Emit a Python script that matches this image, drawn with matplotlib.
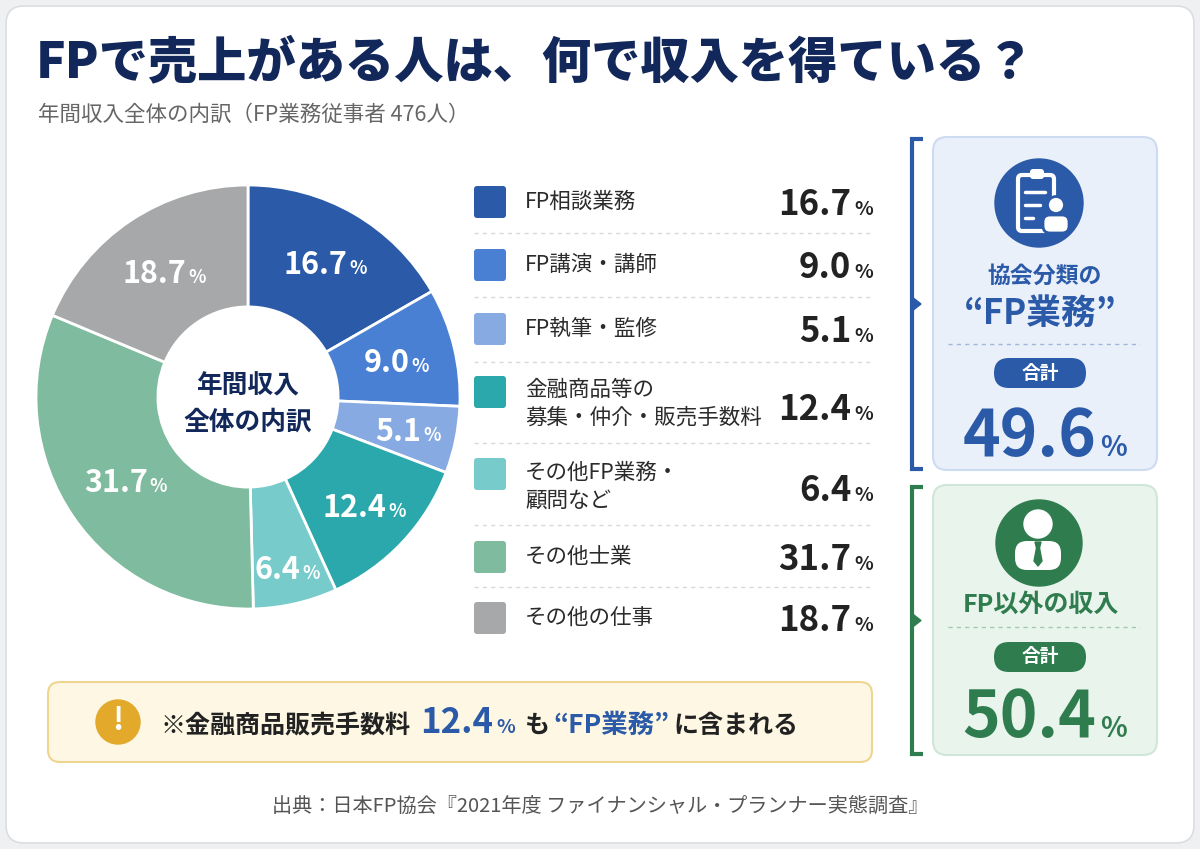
import matplotlib
matplotlib.use("Agg")
import matplotlib.pyplot as plt
import numpy as np
from matplotlib.patches import FancyBboxPatch, Circle, Polygon

plt.rcParams["font.family"] = ["Noto Sans CJK JP", "DejaVu Sans"]

# --- data -------------------------------------------------------------
TITLE = "FPで売上がある人は、何で収入を得ている？"
SUBTITLE = "年間収入全体の内訳（FP業務従事者 476人）"
CENTER_LABEL = "年間収入\n全体の内訳"
SOURCE = "出典：日本FP協会『2021年度 ファイナンシャル・プランナー実態調査』"

categories = [
    "FP相談業務",
    "FP講演・講師",
    "FP執筆・監修",
    "金融商品等の\n募集・仲介・販売手数料",
    "その他FP業務・\n顧問など",
    "その他士業",
    "その他の仕事",
]
shares = [16.7, 9.0, 5.1, 12.4, 6.4, 31.7, 18.7]
colors = ["#2a5aa8", "#4a80d4", "#87aae2", "#2aa8ac", "#78cbcb", "#7fbb9e", "#a6a8a9"]
n_fp = 5  # first five categories count as "FP業務"
commission_share = shares[3]

# label distance from donut centre, as a fraction of the radius
label_r = [0.73, 0.72, 0.77, 0.75, 0.83, 0.70, 0.71]

NAVY = "#13285a"
BLUE = "#2a5aa8"
GREEN = "#2f7d4e"

W, H = 1200, 849
fig = plt.figure(figsize=(W / 100, H / 100), dpi=100)
fig.patch.set_facecolor("#eef0f2")
renderer = fig.canvas.get_renderer()


def px_axes(z):
    a = fig.add_axes([0, 0, 1, 1], zorder=z)
    a.set_xlim(0, W)
    a.set_ylim(H, 0)
    a.axis("off")
    a.patch.set_alpha(0)
    return a


def rbox(a, x, y, w, h, r, fc, ec="none", lw=0, z=1):
    a.add_patch(FancyBboxPatch((x, y), w, h, boxstyle=f"round,pad=0,rounding_size={r}",
                               fc=fc, ec=ec, lw=lw, zorder=z))


def run_text(a, x, y, parts, ha="left", gap=3):
    # place text pieces of mixed size on one baseline
    objs = [a.text(0, y, s, fontsize=fs, color=c, fontweight="bold", va="baseline", zorder=5)
            for s, fs, c in parts]
    widths = [t.get_window_extent(renderer).width for t in objs]
    gaps = list(gap) if isinstance(gap, (list, tuple)) else [gap] * (len(objs) - 1)
    total = sum(widths) + sum(gaps)
    start = {"left": x, "center": x - total / 2, "right": x - total}[ha]
    for t, w, g in zip(objs, widths, gaps + [0]):
        t.set_x(start)
        start += w + g


bg = px_axes(0)
rbox(bg, 6, 6, W - 12, H - 12, 18, "white", "#dcdde0", 1.2)

# --- donut ------------------------------------------------------------
CX, CY, R = 248, 397, 212
pad = 1.04
pax = fig.add_axes([(CX - R * pad) / W, (H - CY - R * pad) / H, 2 * R * pad / W, 2 * R * pad / H],
                   zorder=1)
pax.pie(shares, colors=colors, startangle=90, counterclock=False, radius=1,
        wedgeprops=dict(width=0.575, edgecolor="white", linewidth=2))
pax.set_xlim(-pad, pad)
pax.set_ylim(-pad, pad)
pax.axis("off")

ax = px_axes(2)

cum = np.cumsum([0] + shares[:-1])
for s, c0, rf in zip(shares, cum, label_r):
    ang = np.deg2rad(90 - 360 * (c0 + s / 2) / 100)
    lx = CX + rf * R * np.cos(ang)
    ly = CY - rf * R * np.sin(ang)
    run_text(ax, lx, ly + 11, [(f"{s:.1f}", 22, "white"), ("%", 13, "white")], ha="center", gap=2)

ax.text(CX, CY + 7, CENTER_LABEL, ha="center", va="center", fontsize=18.5, fontweight="bold",
        color=NAVY, linespacing=1.45)

# --- title ------------------------------------------------------------
ax.text(36, 62, TITLE, fontsize=35.5, fontweight="heavy", color=NAVY, va="center")
ax.text(38, 115, SUBTITLE, fontsize=15.5, color="#666666", va="center")

# --- legend list ------------------------------------------------------
square_y = [202, 265, 329, 392, 474, 557, 618]
label_y = [202, 265, 329, 404, 487, 557, 618]
value_y = [202, 265, 329, 407, 488, 557, 618]
sep_y = [233, 297, 362, 443, 525, 587]

for y in sep_y:
    ax.plot([474, 873], [y, y], color="#d6d9dd", lw=1, ls=(0, (3, 3)))

for cat, s, col, sy, ly, vy in zip(categories, shares, colors, square_y, label_y, value_y):
    rbox(ax, 474, sy - 16, 32, 32, 3, col, z=3)
    ax.text(525, ly, cat, fontsize=15.5, color="#2b2b2b", va="center", linespacing=1.35)
    run_text(ax, 873, vy + 13, [(f"{s:.1f}", 25, "#222222"), ("%", 14, "#222222")], ha="right")

# --- right summary panels ---------------------------------------------
def bracket(y0, y1, color):
    ax.plot([923, 912, 912, 923], [y0, y0, y1, y1], color=color, lw=3,
            solid_joinstyle="miter", solid_capstyle="butt")
    ym = (y0 + y1) / 2
    ax.add_patch(Polygon([(912, ym - 7), (921, ym), (912, ym + 7)], closed=True, color=color))


def pill(cx, cy, color):
    rbox(ax, cx - 46, cy - 15, 92, 30, 15, color, z=3)
    ax.text(cx, cy, "合計", ha="center", va="center", fontsize=13.5, fontweight="bold",
            color="white", zorder=5)


fp_total = sum(shares[:n_fp])
other_total = sum(shares[n_fp:])

# FP panel
bracket(139, 469, BLUE)
rbox(ax, 933, 137, 224, 333, 14, "#eaf0fa", "#cddbf1", 1.5)
ax.add_patch(Circle((1039, 203), 44, color=BLUE, zorder=3))
rbox(ax, 1018, 175, 36, 56, 4, "none", "white", 3, z=4)
rbox(ax, 1030, 169, 14, 10, 3, "white", z=4)
for yy, x1 in [(192, 1045), (205, 1040), (218, 1033)]:
    ax.plot([1025, x1], [yy, yy], color="white", lw=2.5, zorder=4, solid_capstyle="round")
ax.add_patch(Circle((1056, 205), 8.5, fc="white", ec=BLUE, lw=2, zorder=5))
rbox(ax, 1043, 215, 26, 18, 7, "white", BLUE, 2, z=5)

ax.text(1045, 276, "協会分類の", ha="center", va="center", fontsize=16.5, fontweight="bold", color=BLUE)
ax.text(1040, 313, "“FP業務”", ha="center", va="center", fontsize=25, fontweight="bold", color=BLUE)
ax.plot([948, 1140], [344, 344], color="#9db6dc", lw=1, ls=(0, (3, 3)))
pill(1040, 373, BLUE)
run_text(ax, 1045, 456, [(f"{fp_total:.1f}", 46, BLUE), ("%", 20, BLUE)], ha="center", gap=4)

# non-FP panel
bracket(487, 754, GREEN)
rbox(ax, 933, 485, 224, 270, 14, "#e9f4ed", "#cfe6d8", 1.5)
ax.add_patch(Circle((1039, 543), 43, color=GREEN, zorder=3))
ax.add_patch(Circle((1038, 524), 14, color="white", zorder=4))
rbox(ax, 1015, 541, 46, 29, 12, "white", z=4)
ax.add_patch(Polygon([(1035, 542), (1041, 542), (1039.5, 548), (1042, 561), (1038, 566),
                      (1034, 561), (1036.5, 548)], closed=True, color=GREEN, zorder=5))
ax.text(1041, 605, "FP以外の収入", ha="center", va="center", fontsize=18, fontweight="bold", color=GREEN)
ax.plot([948, 1140], [627, 627], color="#9fcbb0", lw=1, ls=(0, (3, 3)))
pill(1040, 657, GREEN)
run_text(ax, 1045, 737, [(f"{other_total:.1f}", 46, GREEN), ("%", 20, GREEN)], ha="center", gap=4)

# --- note box ---------------------------------------------------------
rbox(ax, 48, 682, 824, 80, 12, "#fdf7e3", "#f0d591", 1.5)
ax.add_patch(Circle((118, 722), 22, color="#e2a92b", zorder=3))
ax.text(118, 721, "!", ha="center", va="center", fontsize=22, fontweight="bold", color="white", zorder=5)
run_text(ax, 160, 733, [
    ("※金融商品販売手数料", 18, "#222222"),
    (f"{commission_share:.1f}", 25, BLUE),
    ("%", 14, BLUE),
    ("も", 18, "#222222"),
    ("“FP業務”", 19, BLUE),
    ("に含まれる", 18, "#222222"),
], ha="left", gap=[10, 3, 10, 4, 4])

ax.text(600, 806, SOURCE, ha="center", va="center", fontsize=14.5, color="#555555")

fig.savefig("out.png", dpi=100, facecolor=fig.get_facecolor())
